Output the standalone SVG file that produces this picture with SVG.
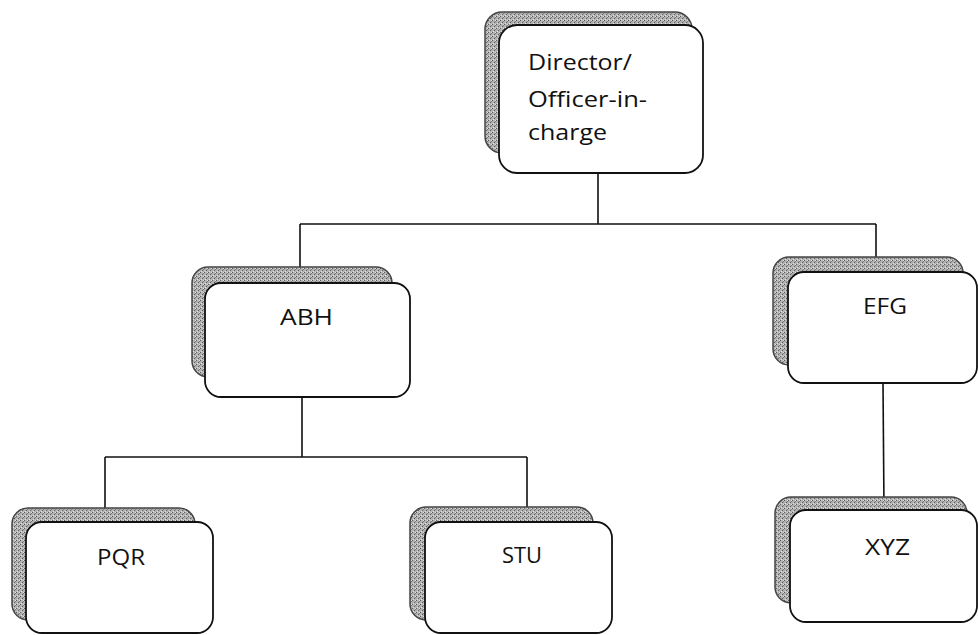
<svg xmlns="http://www.w3.org/2000/svg" width="978" height="635" viewBox="0 0 978 635">
<defs>
<pattern id="stip" width="4" height="4" patternUnits="userSpaceOnUse">
<rect width="4" height="4" fill="#b2b2b2"/>
<rect x="0" y="0" width="1" height="1" fill="#5e5e5e"/>
<rect x="2" y="2" width="1" height="1" fill="#5e5e5e"/>
<rect x="3" y="1" width="1" height="1" fill="#7a7a7a"/>
<rect x="3" y="0" width="1" height="1" fill="#e0e0e0"/>
<rect x="1" y="3" width="1" height="1" fill="#e0e0e0"/>
</pattern>
</defs>
<style>
.sh{fill:url(#stip);stroke:#444;stroke-width:1.5}
.fr{fill:#fff;stroke:#111;stroke-width:1.8}
.t{font-family:"Open Sans","Noto Sans","DejaVu Sans",sans-serif;font-size:22px;fill:#111}
.c{fill:none;stroke:#111;stroke-width:1.6}
</style>
<rect width="978" height="635" fill="#fff"/>
<g id="connectors">
<path class="c" d="M598,173 V224 M300,224 H876 M300,224 V283 M876,224 V272"/>
<path class="c" d="M302,397 V457 M105,457 H527 M105,457 V522 M527,457 V522"/>
<path class="c" d="M883,383 L884,510"/>
</g>
<g id="director">
<rect class="sh" x="485" y="12" width="207" height="141" rx="17"/>
<rect class="fr" x="499" y="25" width="204" height="148" rx="18"/>
<text class="t" x="528" y="70" textLength="104" lengthAdjust="spacingAndGlyphs">Director/</text>
<text class="t" x="528" y="107" textLength="119" lengthAdjust="spacingAndGlyphs">Officer-in-</text>
<text class="t" x="528" y="140" textLength="79" lengthAdjust="spacingAndGlyphs">charge</text>
</g>
<g id="abh">
<rect class="sh" x="192" y="267" width="200" height="110" rx="16"/>
<rect class="fr" x="205" y="283" width="205" height="114" rx="16"/>
<text class="t" x="280" y="325" textLength="53" lengthAdjust="spacingAndGlyphs">ABH</text>
</g>
<g id="efg">
<rect class="sh" x="773" y="257" width="190" height="108" rx="16"/>
<rect class="fr" x="788" y="272" width="189" height="111" rx="16"/>
<text class="t" x="863" y="314" textLength="44" lengthAdjust="spacingAndGlyphs">EFG</text>
</g>
<g id="pqr">
<rect class="sh" x="12" y="508" width="183" height="112" rx="16"/>
<rect class="fr" x="26" y="522" width="187" height="111" rx="16"/>
<text class="t" x="97" y="565" textLength="48" lengthAdjust="spacingAndGlyphs">PQR</text>
</g>
<g id="stu">
<rect class="sh" x="410" y="507" width="183" height="113" rx="16"/>
<rect class="fr" x="425" y="522" width="187" height="111" rx="16"/>
<text class="t" x="502" y="563" textLength="40" lengthAdjust="spacingAndGlyphs">STU</text>
</g>
<g id="xyz">
<rect class="sh" x="775" y="497" width="192" height="106" rx="16"/>
<rect class="fr" x="790" y="510" width="187" height="112" rx="16"/>
<text class="t" x="865" y="555" textLength="45" lengthAdjust="spacingAndGlyphs">XYZ</text>
</g>
</svg>
